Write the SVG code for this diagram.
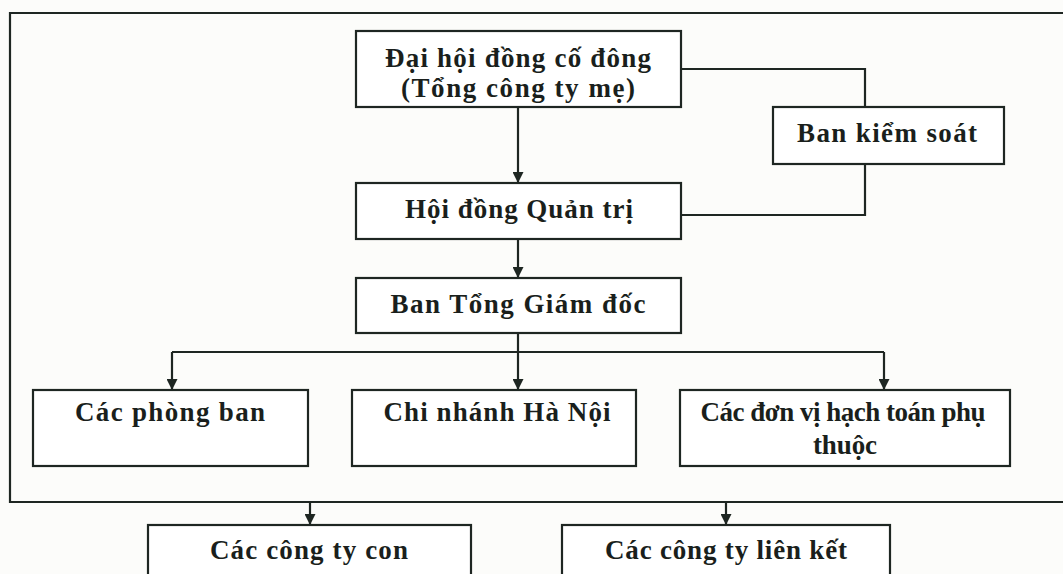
<svg xmlns="http://www.w3.org/2000/svg" width="1063" height="574" viewBox="0 0 1063 574">
<defs>
<marker id="arr" viewBox="0 0 10 10" refX="10" refY="5" markerWidth="11" markerHeight="11" markerUnits="userSpaceOnUse" orient="auto">
<path d="M0,0 L10,5 L0,10 Z" fill="#1e2622"/>
</marker>
<style>
.box{fill:#ffffff;stroke:#1e2622;stroke-width:2.2}
.t{font-family:"Liberation Serif","Times New Roman",serif;font-weight:bold;font-size:27px;fill:#1a1f1c;text-anchor:middle}
.ln{fill:none;stroke:#1e2622;stroke-width:2.2}
</style>
</defs>
<rect width="1063" height="574" fill="#fcfcfa"/>
<g id="frame"><path class="ln" d="M1070,13 L10,13 L10,502 L1070,502"/></g>
<g id="connectors">
<path class="ln" d="M681,69 L865,69 L865,107"/>
<path class="ln" d="M865,164 L865,215 L681,215"/>
<path class="ln" d="M518,107 L518,183" marker-end="url(#arr)"/>
<path class="ln" d="M518,239 L518,278" marker-end="url(#arr)"/>
<path class="ln" d="M518,333 L518,390" marker-end="url(#arr)"/>
<path class="ln" d="M172,352 L884,352"/>
<path class="ln" d="M172,352 L172,390" marker-end="url(#arr)"/>
<path class="ln" d="M884,352 L884,390" marker-end="url(#arr)"/>
<path class="ln" d="M310,502 L310,525" marker-end="url(#arr)"/>
<path class="ln" d="M726,502 L726,525" marker-end="url(#arr)"/>
</g>
<g id="dhdcd"><rect class="box" x="356" y="31" width="325" height="76"/><text class="t" x="518" y="67" textLength="266">Đại hội đồng cố đông</text><text class="t" x="518" y="97" textLength="234">(Tổng công ty mẹ)</text></g>
<g id="bks"><rect class="box" x="773" y="107" width="231" height="57"/><text class="t" x="887" y="142" textLength="180">Ban kiểm soát</text></g>
<g id="hdqt"><rect class="box" x="356" y="183" width="325" height="56"/><text class="t" x="519" y="218" textLength="228">Hội đồng Quản trị</text></g>
<g id="btgd"><rect class="box" x="356" y="278" width="325" height="55"/><text class="t" x="518" y="313" textLength="255">Ban Tổng Giám đốc</text></g>
<g id="cpb"><rect class="box" x="33" y="390" width="275" height="76"/><text class="t" x="170" y="421" textLength="190">Các phòng ban</text></g>
<g id="cnhn"><rect class="box" x="352" y="390" width="284" height="76"/><text class="t" x="497" y="421" textLength="227">Chi nhánh Hà Nội</text></g>
<g id="cdv"><rect class="box" x="680" y="390" width="330" height="76"/><text class="t" x="843" y="421" textLength="285">Các đơn vị hạch toán phụ</text><text class="t" x="845" y="454" textLength="64">thuộc</text></g>
<g id="cctc"><rect class="box" x="148" y="525" width="323" height="60"/><text class="t" x="309" y="559" textLength="198">Các công ty con</text></g>
<g id="cctlk"><rect class="box" x="562" y="525" width="328" height="60"/><text class="t" x="726" y="559" textLength="242">Các công ty liên kết</text></g>
</svg>
